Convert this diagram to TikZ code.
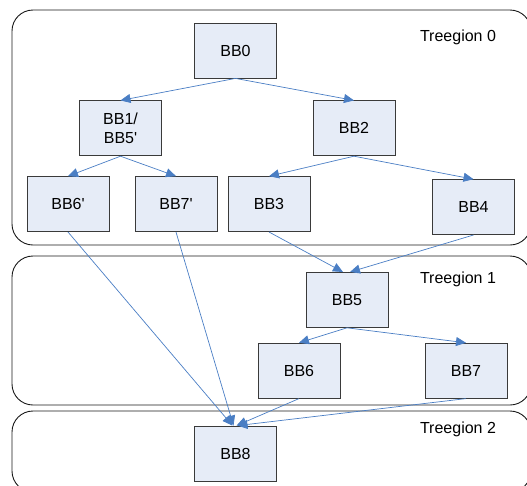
\documentclass[tikz,border=0pt]{standalone}
\usepackage{fontspec}
\setmainfont{Liberation Sans}
\usetikzlibrary{arrows.meta,positioning,calc}
\definecolor{bbfill}{HTML}{E6ECF7}
\definecolor{bbedge}{HTML}{3A3A3A}
\definecolor{cfgblue}{HTML}{4A7EC4}
\newcommand{\pr}{\textquotesingle}
\tikzset{
  % basic blocks of the CFG
  block/.style={draw=bbedge, fill=bbfill, rectangle, line width=0.8pt,
  minimum height=55pt,
  minimum width=82pt, align=center,
  font=\fontsize{16}{19}\selectfont},
  region/.style={draw=black!90, line width=0.9pt, rounded corners=21pt},
  rlabel/.style={font=\fontsize{16}{19}\selectfont},
  edge/.style={draw=cfgblue, line width=0.7pt,
  -{Triangle[length=10pt,width=9pt]}}}

\begin{document}
\begin{tikzpicture}[x=1pt, y=1pt]

\useasboundingbox (0,0) rectangle (527,-485);
\clip (0,0) rectangle (527,-485);

% treegions
\draw [region] (12,-10) rectangle (531,-245);
\draw [region] (12,-256) rectangle (531,-405);
\draw [region] (12,-411) rectangle (531,-492);

\node (tr0) [rlabel] at (458,-37) {Treegion 0};
\node (tr1) [rlabel] at (458,-279) {Treegion 1};
\node (tr2) [rlabel] at (458,-429) {Treegion 2};

% treegion 0
\node (bb0) [block] at (235.5,-50.5) {BB0};

\node (bb1) [block, below=22pt of bb0, xshift=-115pt] {BB1/\\BB5\pr};
\node (bb2) [block, below=22pt of bb0, xshift=118.5pt] {BB2};

\node (bb6p) [block, below=20pt of bb1, xshift=-52.5pt] {BB6\pr};
\node (bb7p) [block, below=20pt of bb1, xshift=55.5pt] {BB7\pr};
\node (bb3) [block, below=20pt of bb2, xshift=-85pt] {BB3};
\node (bb4) [block, below=23pt of bb2, xshift=119.5pt] {BB4};

% treegion 1
\node (bb5) [block, below=40pt of bb3, xshift=78pt] {BB5};
\node (bb6) [block, below=15pt of bb5, xshift=-48pt] {BB6};
\node (bb7) [block, below=15pt of bb5, xshift=119pt] {BB7};

% treegion 2
\node (bb8) [block, below=27pt of bb6, xshift=-63.5pt] {BB8};

\draw [edge] (bb0.south) -- (bb1.north);
\draw [edge] (bb0.south) -- (bb2.north);
\draw [edge] (bb1.south) -- (bb6p.north);
\draw [edge] (bb1.south) -- (bb7p.north);
\draw [edge] (bb2.south) -- (bb3.north);
\draw [edge] (bb2.south) -- (bb4.north);

\draw [edge] (bb3.south) -- ([xshift=-4pt]bb5.north);
\draw [edge] (bb4.south) -- ([xshift=3pt]bb5.north);
\draw [edge] (bb5.south) -- (bb6.north);
\draw [edge] (bb5.south) -- (bb7.north);

\draw [edge] (bb6p.south) -- ([xshift=-3pt]bb8.north);
\draw [edge] (bb7p.south) -- ([xshift=-2pt]bb8.north);
\draw [edge] (bb6.south) -- ([xshift=1pt]bb8.north);
\draw [edge] (bb7.south) -- ([xshift=2pt]bb8.north);

\end{tikzpicture}
\end{document}
